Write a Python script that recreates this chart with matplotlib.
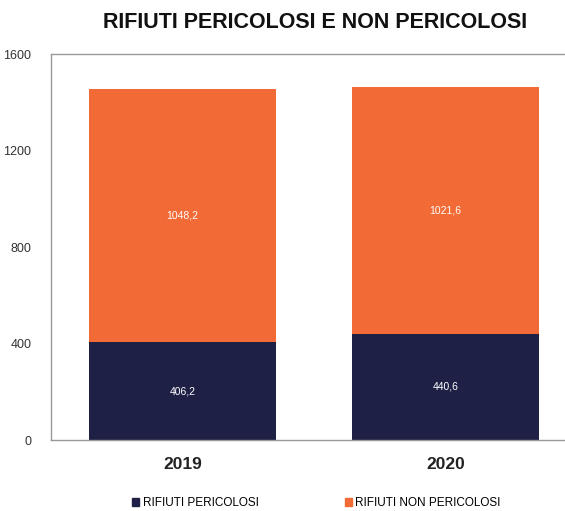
import matplotlib
matplotlib.use("Agg")
import matplotlib.pyplot as plt
from matplotlib.patches import Patch

plt.rcParams['font.family'] = ['Liberation Sans', 'DejaVu Sans']

years = ["2019", "2020"]
pericolosi = [406.2, 440.6]
non_pericolosi = [1048.2, 1021.6]
labels_p = ["406,2", "440,6"]
labels_np = ["1048,2", "1021,6"]
series_names = ["RIFIUTI PERICOLOSI", "RIFIUTI NON PERICOLOSI"]
yticks = [0, 400, 800, 1200, 1600]

navy = "#1e2045"
orange = "#f26a36"

fig = plt.figure(figsize=(5.65, 5.11), dpi=100)
ax = fig.add_axes([51/565, 71/511, 526/565, 386/511])

x = list(range(len(years)))
w = 0.71
ax.bar(x, pericolosi, w, color=navy)
ax.bar(x, non_pericolosi, w, bottom=pericolosi, color=orange)

for i in x:
    ax.text(i, pericolosi[i] / 2, labels_p[i], ha='center', va='center', color='white', fontsize=7.5)
    ax.text(i, pericolosi[i] + non_pericolosi[i] / 2, labels_np[i], ha='center', va='center', color='white', fontsize=7.5)

ax.set_xlim(-0.5, 1.5)
ax.set_ylim(0, 1600)
ax.set_yticks(yticks)
ax.set_yticklabels([str(v) for v in yticks], fontsize=9, color='#333333')
ax.set_xticks(x)
ax.set_xticklabels(years, fontsize=12.5, fontweight='bold', color='#222222')
ax.tick_params(axis='both', length=0)
ax.tick_params(axis='y', pad=14)
ax.tick_params(axis='x', pad=12)
for s in ['left', 'top', 'bottom']:
    ax.spines[s].set_color('#999999')
    ax.spines[s].set_linewidth(1.0)
ax.spines['right'].set_visible(False)

fig.text(0.557, 1 - 22/511, "RIFIUTI PERICOLOSI E NON PERICOLOSI", ha='center', va='center',
         fontsize=15.5, fontweight='bold', color='#111111')

handles = [Patch(color=navy), Patch(color=orange)]
fig.legend(handles, series_names, loc='center', bbox_to_anchor=(0.56, 1 - 503/511), ncol=2,
           frameon=False, fontsize=8.5, handlelength=0.6, handleheight=0.6, handletextpad=0.3,
           columnspacing=7.3)

fig.savefig("out.png", dpi=100)
